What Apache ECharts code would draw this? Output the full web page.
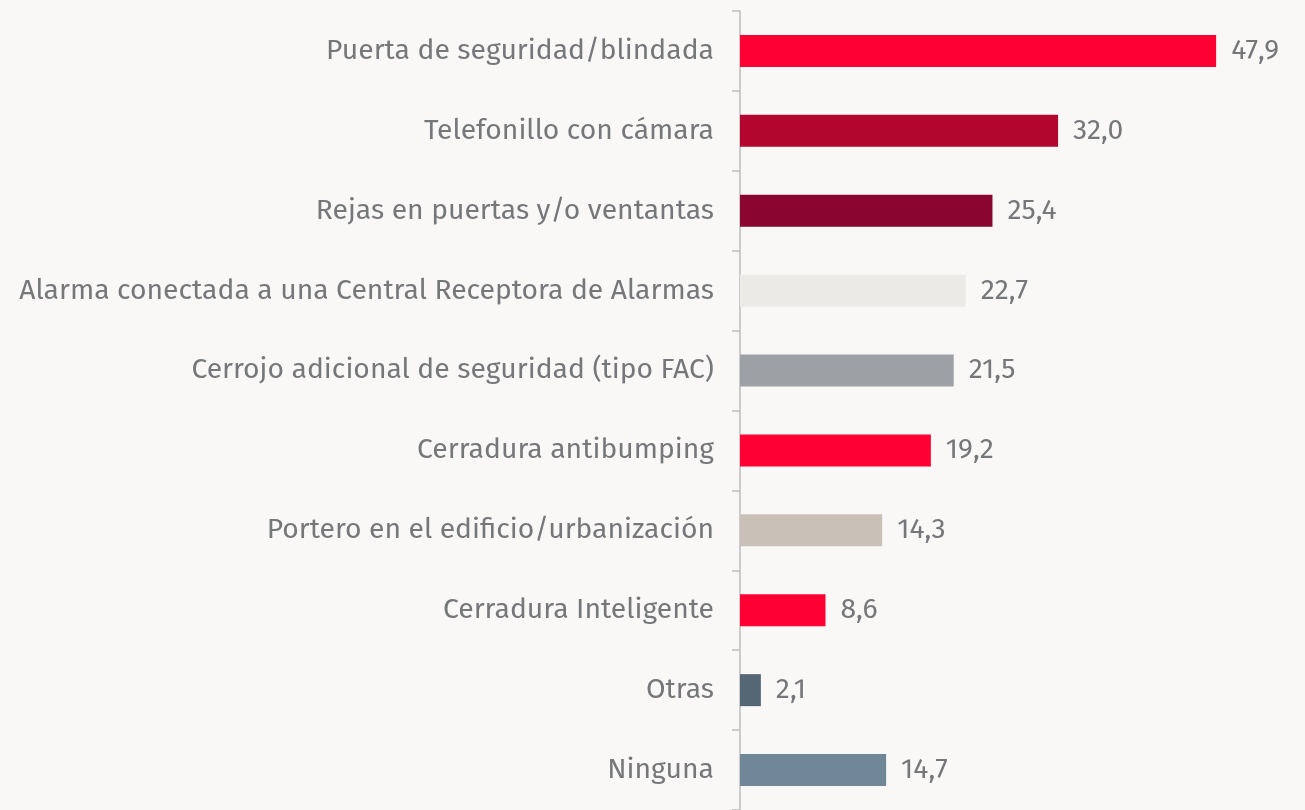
<!DOCTYPE html>
<html>
<head>
<meta charset="utf-8">
<script src="https://cdn.jsdelivr.net/npm/echarts@6/dist/echarts.min.js"></script>
<style>
  html, body { margin: 0; padding: 0; background: #f9f8f7; }
  #chart { width: 1305px; height: 810px; }
</style>
</head>
<body>
<div id="chart"></div>
<script>
// categories and values, top to bottom
var categories = [
  'Puerta de seguridad/blindada',
  'Telefonillo con cámara',
  'Rejas en puertas y/o ventantas',
  'Alarma conectada a una Central Receptora de Alarmas',
  'Cerrojo adicional de seguridad (tipo FAC)',
  'Cerradura antibumping',
  'Portero en el edificio/urbanización',
  'Cerradura Inteligente',
  'Otras',
  'Ninguna'
];
var values = [47.9, 32.0, 25.4, 22.7, 21.5, 19.2, 14.3, 8.6, 2.1, 14.7];
var barColors = ['#ff0033', '#b3062e', '#8a0530', '#ebeae7', '#9da0a5',
                 '#ff0033', '#c9c1b8', '#ff0033', '#556675', '#6f8797'];

var txt = '#75777a';
var fontFam = '"Fira Sans", "Noto Sans", sans-serif';

var chart = echarts.init(document.getElementById('chart'));
var option = {
  backgroundColor: '#f9f8f7',
  animation: false,
  grid: { left: 740, top: 11, width: 497, height: 800 },
  xAxis: {
    type: 'value',
    min: 0,
    max: 50,
    show: false
  },
  yAxis: {
    type: 'category',
    inverse: true,
    data: categories,
    axisLine: { show: true, lineStyle: { color: '#bdbdbd', width: 1.5 } },
    axisTick: { show: true, length: 8, lineStyle: { color: '#bdbdbd', width: 1.5 } },
    axisLabel: { margin: 26, color: txt, fontSize: 28.3, fontFamily: fontFam }
  },
  series: [{
    type: 'bar',
    barWidth: 32,
    data: values.map(function (v, i) {
      return { value: v, itemStyle: { color: barColors[i] } };
    }),
    label: {
      show: true,
      position: 'right',
      distance: 15,
      color: txt,
      fontSize: 28.3,
      fontFamily: fontFam,
      formatter: function (p) { return p.value.toFixed(1).replace('.', ','); }
    }
  }]
};
chart.setOption(option);
</script>
</body>
</html>
